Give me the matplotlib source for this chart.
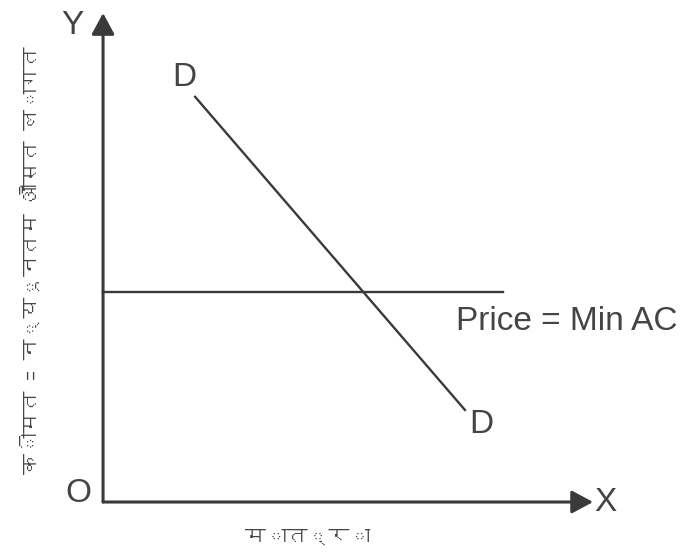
import matplotlib
matplotlib.use("Agg")
import matplotlib.pyplot as plt
from matplotlib import font_manager
from matplotlib.ft2font import FT2Font

# diagram values (quantity / price units, axes run 0..100)
demand_q = [18.9, 74.3]
demand_p = [83.2, 18.9]
price_level = 43.1
price_q_end = 82.1

y_title = "कीमत = न्यूनतम औसत लागत"
x_title = "मात्रा"
price_label = "Price = Min AC"

ink = "#3a3a3a"
txt = "#444444"


def find_devanagari_font():
    for path in font_manager.findSystemFonts():
        try:
            if FT2Font(path).get_char_index(0x0915):
                return font_manager.FontProperties(fname=path).get_name()
        except Exception:
            pass
    return None


deva = find_devanagari_font()
hindi_family = [deva, "DejaVu Sans"] if deva else ["DejaVu Sans"]

plt.rcParams["font.family"] = ["Liberation Sans", "DejaVu Sans"]

fig = plt.figure(figsize=(6.87, 5.53), dpi=100)
ax = fig.add_axes([0.15, 0.0922, 0.709, 0.8807])
ax.set_xlim(0, 100)
ax.set_ylim(0, 100)
ax.axis("off")

# axes with arrow heads
arrow = dict(arrowstyle="-|>,head_length=1.3,head_width=0.7", color=ink, lw=2.2,
             shrinkA=0, shrinkB=0)
ax.annotate("", xy=(100.6, 0), xytext=(0, 0), arrowprops=arrow, annotation_clip=False)
ax.annotate("", xy=(0, 100.4), xytext=(0, 0), arrowprops=arrow, annotation_clip=False)

ax.plot([0, price_q_end], [price_level, price_level], color=ink, lw=1.7, clip_on=False)
ax.plot(demand_q, demand_p, color=ink, lw=1.7, clip_on=False)

fs = 24
ax.text(demand_q[0] - 2.3, demand_p[0] + 3.9, "D", fontsize=fs, color=txt, ha="center", va="center")
ax.text(demand_q[1] + 3.3, demand_p[1] - 2.9, "D", fontsize=fs, color=txt, ha="center", va="center")
ax.text(72.4, price_level - 6.1, price_label, fontsize=fs, color=txt, ha="left", va="center")
ax.text(-5.1, 1.8, "O", fontsize=fs, color=txt, ha="center", va="center")
ax.text(103.1, 0, "X", fontsize=fs, color=txt, ha="center", va="center")
ax.text(-6.4, 97.9, "Y", fontsize=fs, color=txt, ha="center", va="center")

fig.text(0.044, 0.53, y_title, rotation=90, fontsize=15, color=txt, ha="center", va="center",
         family=hindi_family)
fig.text(308 / 687, 1 - 537 / 553, x_title, fontsize=15, color=txt, ha="center", va="center",
         family=hindi_family)

fig.savefig("out.png", dpi=100, facecolor="white")
